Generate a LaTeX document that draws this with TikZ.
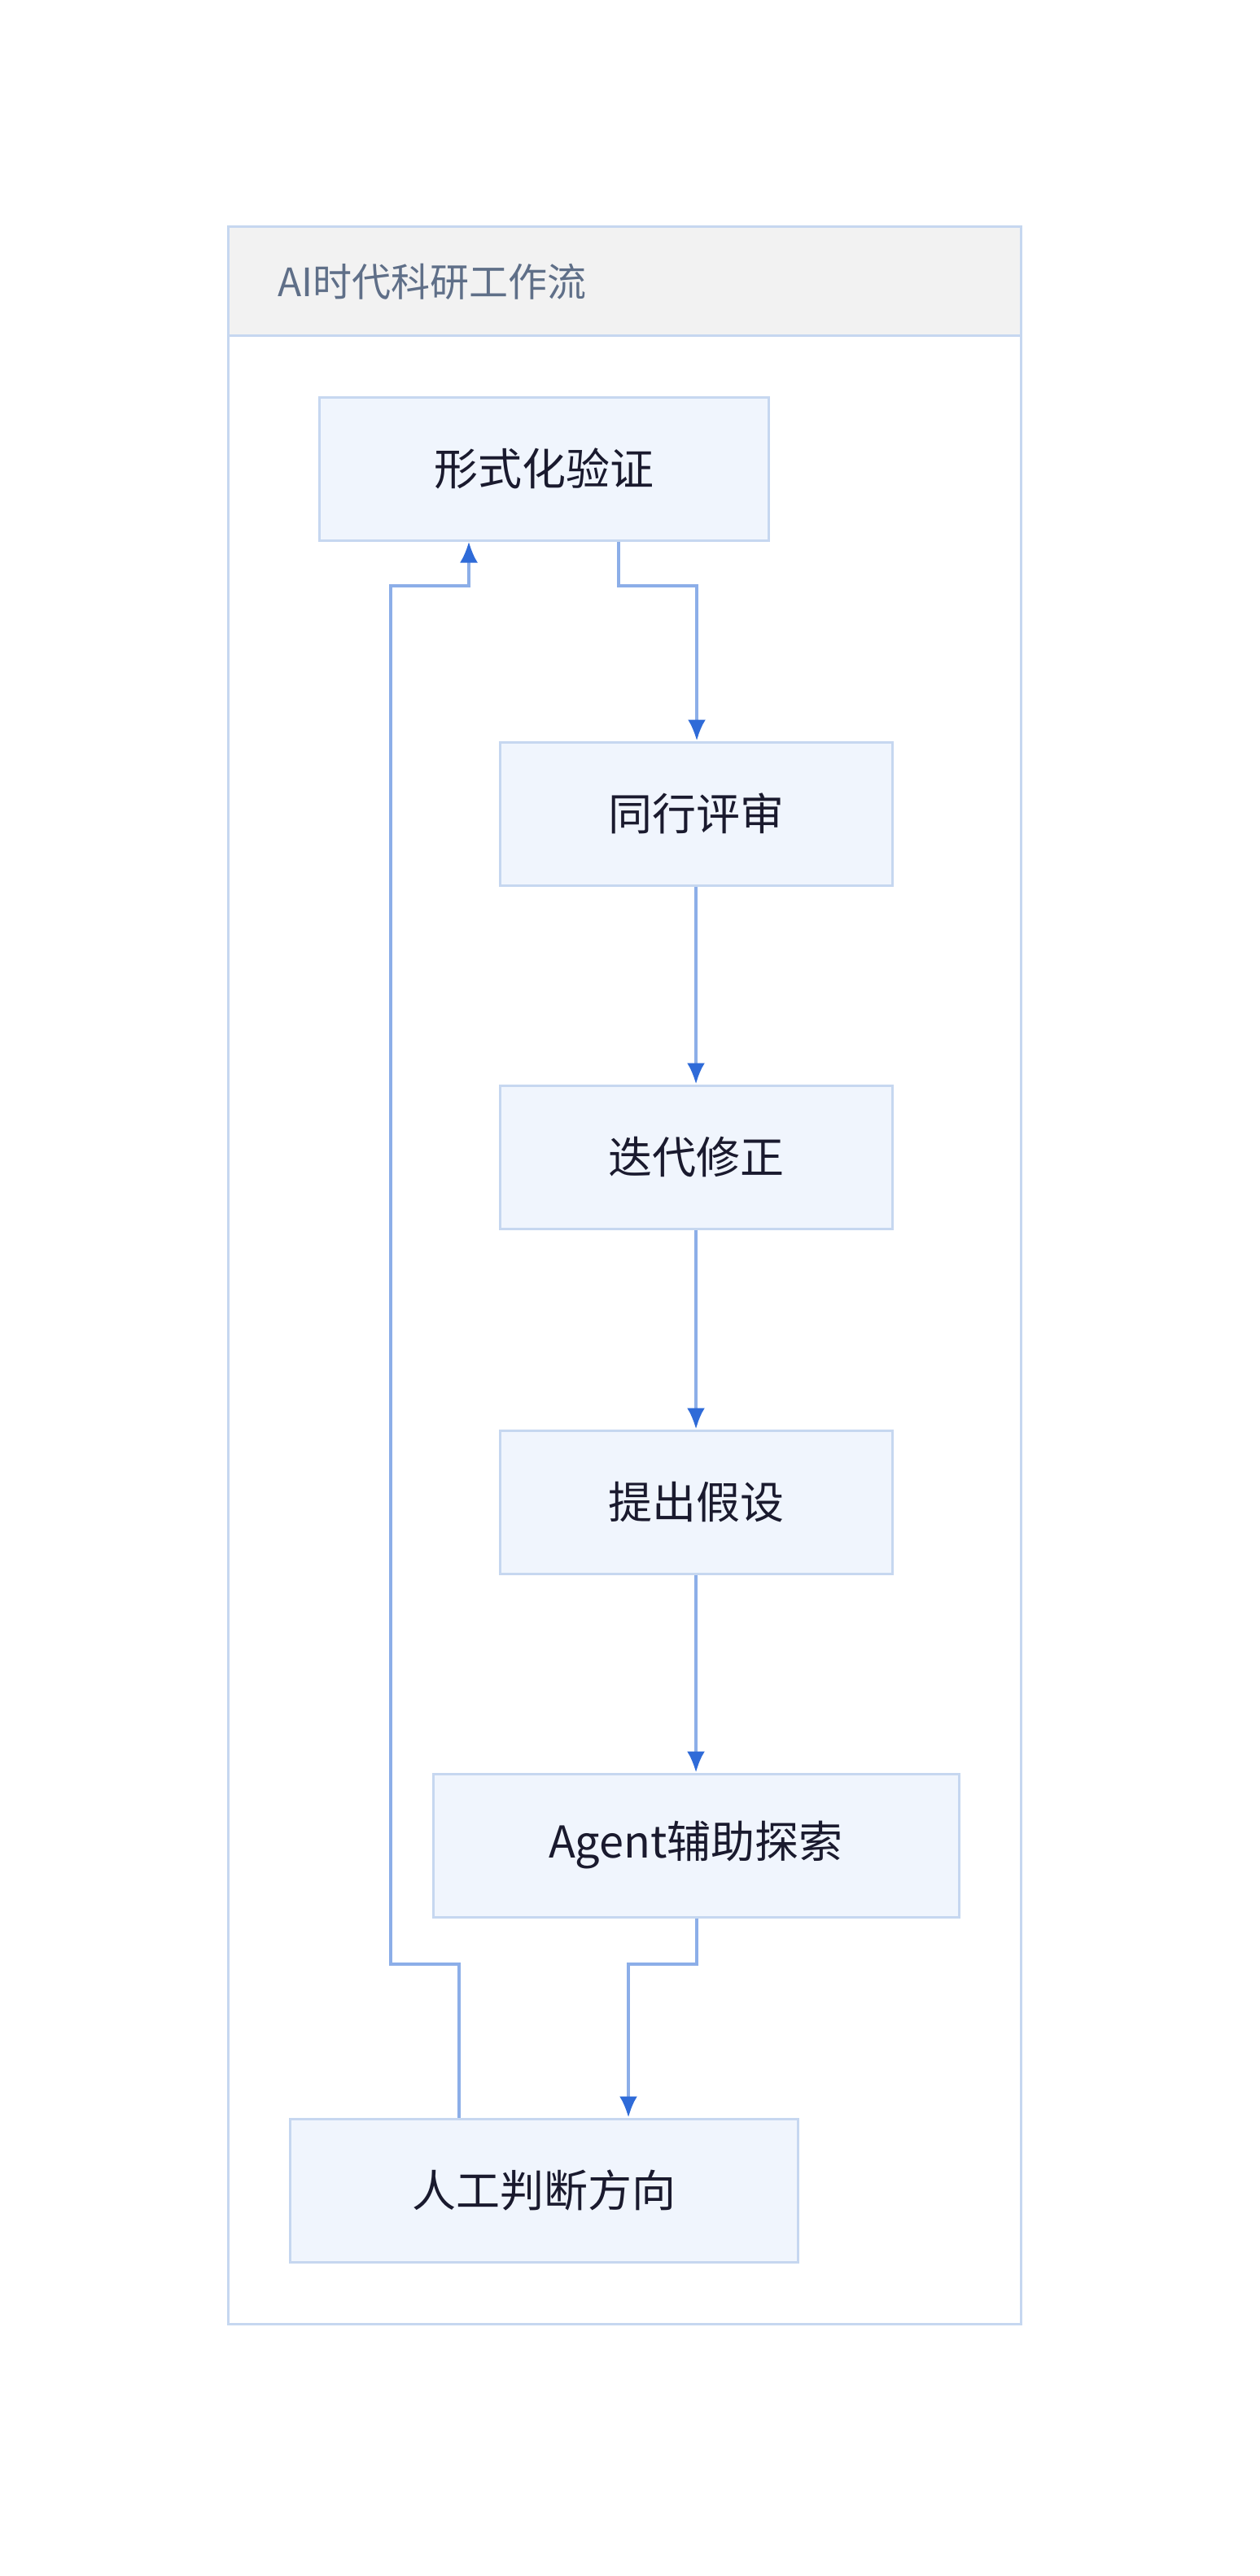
\documentclass[tikz,border=0pt]{standalone}
\usepackage{fontspec}
\setmainfont{Noto Sans CJK SC}
\usetikzlibrary{arrows.meta}
\definecolor{nfill}{HTML}{F0F5FD}
\definecolor{nline}{HTML}{C6D7F0}
\definecolor{eline}{HTML}{8CAEE8}
\definecolor{etip}{HTML}{2F6BD8}
\definecolor{hfill}{HTML}{F2F2F2}
\definecolor{htext}{HTML}{5F6F88}
\definecolor{ntext}{HTML}{1A1A2E}
\begin{document}
\begin{tikzpicture}[x=1pt,y=-1pt,
  box/.style={draw=nline,fill=nfill,line width=1.5pt,text=ntext,font=\fontsize{27}{30}\selectfont},
  edge/.style={draw=eline,line width=2pt,-{Latex[length=13pt,width=11pt,color=etip]}}]
\useasboundingbox (0,0) rectangle (774,1583);
\fill[white] (0,0) rectangle (774,1583);
\draw[nline,line width=1.5pt] (140,139) rectangle (627,1428);
\draw[nline,line width=1.5pt,fill=hfill] (140,139) rectangle (627,206);
\node[anchor=west,text=htext,font=\fontsize{24}{28}\selectfont] (title) at (167,173) {AI时代科研工作流};
\path (196,244) rectangle (472,332);
\node[box,minimum width=276pt,minimum height=88pt] (a) at (334,288) {形式化验证};
\node[box,minimum width=241pt,minimum height=88pt] (b) at (427.5,500) {同行评审};
\node[box,minimum width=241pt,minimum height=88pt] (c) at (427.5,711) {迭代修正};
\node[box,minimum width=241pt,minimum height=88pt] (d) at (427.5,923) {提出假设};
\node[box,minimum width=323pt,minimum height=88pt] (e) at (427.5,1134) {Agent辅助探索};
\node[box,minimum width=312pt,minimum height=88pt] (f) at (334,1346) {人工判断方向};
\draw[edge] (a.south -| 380,0) -- (380,360) -- (428,360) -- (b.north -| 428,0);
\draw[edge] (b) -- (c);
\draw[edge] (c) -- (d);
\draw[edge] (d) -- (e);
\draw[edge] (e.south -| 428,0) -- (428,1207) -- (386,1207) -- (f.north -| 386,0);
\draw[edge] (f.north -| 282,0) -- (282,1207) -- (240,1207) -- (240,360) -- (288,360) -- (a.south -| 288,0);
\end{tikzpicture}
\end{document}
